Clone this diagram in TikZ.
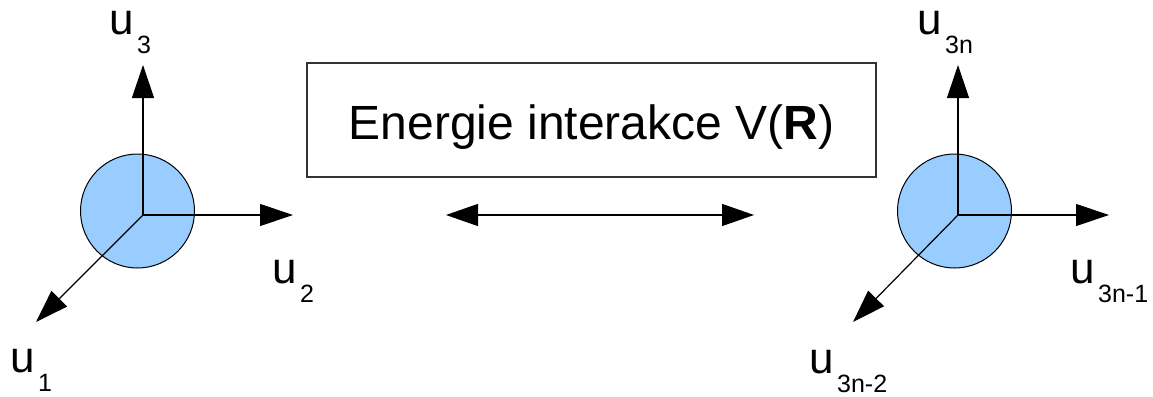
\documentclass[tikz,border=0pt]{standalone}
\usepackage{fontspec}
\setmainfont{Liberation Sans}
\usetikzlibrary{arrows.meta}
\definecolor{ballblue}{HTML}{99CCFF}
\definecolor{boxline}{HTML}{333333}
\newcommand{\ulab}[1]{u\kern3.5pt\raisebox{-19pt}{\fontsize{25}{25}\selectfont #1}}
\begin{document}
\begin{tikzpicture}[x=1pt,y=-1pt,
  axis/.style={line width=1.2pt,-{Triangle[length=33pt,width=22pt]}},
  ball/.style={circle,draw=black,line width=1pt,fill=ballblue,minimum size=114pt,inner sep=0},
  lab/.style={anchor=base west,inner sep=0,font=\fontsize{44}{44}\selectfont}]
\useasboundingbox (0,0) rectangle (1153,396);

% energy box
\node[draw=boxline,line width=1.3pt,inner sep=0,text height=76pt,text depth=38pt,
      minimum width=569pt,anchor=base,font=\fontsize{48}{48}\selectfont]
      (box) at (591.5,139) {Energie interakce V(\textbf{R})};

% interaction arrow
\coordinate (il) at (446,215);
\coordinate (ir) at (754,215);
\draw[line width=1.2pt,{Triangle[length=32pt,width=22pt]}-{Triangle[length=32pt,width=22pt]}] (il) -- (ir);

% left particle
\node[ball] (b1) at (137.5,211) {};
\coordinate (o1) at (143,215);
\coordinate (t3) at (143,65);
\coordinate (t2) at (293,215);
\coordinate (t1) at (36,322);
\draw[axis] (o1) -- (t3);
\draw[axis] (o1) -- (t2);
\draw[axis] (o1) -- (t1);
\node[lab] (u3) at (109,35) {\ulab{3}};
\node[lab] (u2) at (272,283) {\ulab{2}};
\node[lab] (u1) at (10,372) {\ulab{1}};

% right particle
\node[ball] (b2) at (954.5,211) {};
\coordinate (o2) at (958,215);
\coordinate (s3) at (958,65);
\coordinate (s2) at (1109,215);
\coordinate (s1) at (853,322);
\draw[axis] (o2) -- (s3);
\draw[axis] (o2) -- (s2);
\draw[axis] (o2) -- (s1);
\node[lab] (v3) at (917,35) {\ulab{3n}};
\node[lab] (v2) at (1070,283) {\ulab{3n-1}};
\node[lab] (v1) at (809,373) {\ulab{3n-2}};
\end{tikzpicture}
\end{document}
